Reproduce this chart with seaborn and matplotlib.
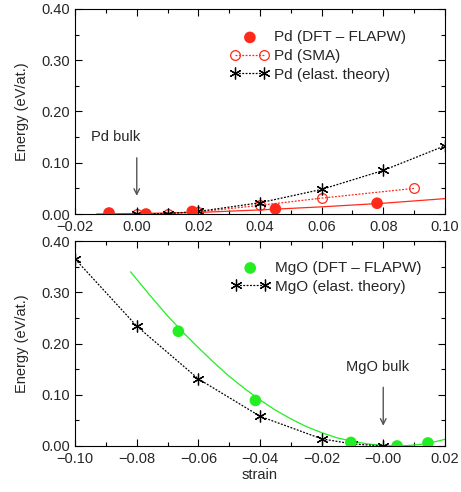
import matplotlib
matplotlib.use("Agg")
import matplotlib.pyplot as plt
import seaborn as sns
from matplotlib.ticker import MultipleLocator

sns.set_style("ticks")
plt.rcParams['font.family'] = ['Liberation Sans', 'DejaVu Sans']

# ---- Pd panel data ----
pd_dft_x = [-0.009, 0.003, 0.018, 0.045, 0.078]
pd_dft_y = [0.002, 0.000, 0.005, 0.010, 0.021]
pd_fit_x = [-0.013, 0.00, 0.02, 0.04, 0.06, 0.08, 0.10]
pd_fit_y = [0.000, 0.001, 0.003, 0.008, 0.014, 0.021, 0.030]
pd_sma_x = [0.00, 0.01, 0.02, 0.04, 0.06, 0.09]
pd_sma_y = [0.000, 0.001, 0.004, 0.017, 0.031, 0.050]
pd_el_x = [0.00, 0.01, 0.02, 0.04, 0.06, 0.08, 0.10]
pd_el_y = [0.000, 0.001, 0.005, 0.022, 0.048, 0.085, 0.133]

# ---- MgO panel data ----
mgo_dft_x = [-0.0665, -0.0415, -0.0105, 0.0045, 0.0145]
mgo_dft_y = [0.224, 0.089, 0.007, 0.000, 0.006]
mgo_fit_x = [-0.082, -0.076, -0.07, -0.065, -0.06, -0.055, -0.05, -0.045, -0.04, -0.035,
             -0.03, -0.025, -0.02, -0.015, -0.01, -0.005, 0.0, 0.004, 0.008, 0.012, 0.016, 0.02]
mgo_fit_y = [0.340, 0.296, 0.254, 0.222, 0.192, 0.163, 0.136, 0.112, 0.090, 0.070,
             0.053, 0.038, 0.026, 0.016, 0.009, 0.004, 0.001, 0.000, 0.001, 0.003, 0.007, 0.013]
mgo_el_x = [-0.10, -0.08, -0.06, -0.04, -0.02, -0.01, 0.00]
mgo_el_y = [0.365, 0.234, 0.131, 0.058, 0.014, 0.004, 0.000]

red = '#ff2a1a'
green = '#22ee22'
star = (6, 2, 0)
dots = (0, (1.5, 1.2))

fig = plt.figure(figsize=(4.61, 4.92), dpi=100)
ax1 = fig.add_axes([0.163, 0.565, 0.802, 0.417])
ax2 = fig.add_axes([0.163, 0.0935, 0.802, 0.4165])

# Top panel
sns.lineplot(x=pd_fit_x, y=pd_fit_y, ax=ax1, color=red, lw=0.9, sort=False)
sns.lineplot(x=pd_sma_x, y=pd_sma_y, ax=ax1, color=red, lw=0.9, linestyle=dots,
             marker='o', markersize=7, markerfacecolor='none', markeredgecolor=red,
             markeredgewidth=0.9, sort=False, label='Pd (SMA)')
sns.lineplot(x=pd_el_x, y=pd_el_y, ax=ax1, color='black', lw=0.9, linestyle=dots,
             marker=star, markersize=8.5, markeredgewidth=0.9, markeredgecolor='black',
             sort=False, label='Pd (elast. theory)')
sns.scatterplot(x=pd_dft_x, y=pd_dft_y, ax=ax1, color=red, s=70, edgecolor='none',
                zorder=5, label='Pd (DFT \u2013 FLAPW)')

# Bottom panel
sns.lineplot(x=mgo_fit_x, y=mgo_fit_y, ax=ax2, color=green, lw=0.9, sort=False)
sns.lineplot(x=mgo_el_x, y=mgo_el_y, ax=ax2, color='black', lw=0.9, linestyle=dots,
             marker=star, markersize=8.5, markeredgewidth=0.9, markeredgecolor='black',
             sort=False, label='MgO (elast. theory)')
sns.scatterplot(x=mgo_dft_x, y=mgo_dft_y, ax=ax2, color=green, s=70, edgecolor='none',
                zorder=5, label='MgO (DFT \u2013 FLAPW)')

for ax, (x0, x1) in ((ax1, (-0.02, 0.10)), (ax2, (-0.10, 0.02))):
    ax.set_xlim(x0, x1)
    ax.set_ylim(0, 0.40)
    ax.xaxis.set_major_locator(MultipleLocator(0.02))
    ax.xaxis.set_minor_locator(MultipleLocator(0.01))
    ax.yaxis.set_major_locator(MultipleLocator(0.10))
    ax.yaxis.set_minor_locator(MultipleLocator(0.05))
    ax.xaxis.set_major_formatter(plt.FuncFormatter(lambda v, p: f"{v:.2f}".replace('-', '\u2212')))
    ax.yaxis.set_major_formatter(plt.FuncFormatter(lambda v, p: f"{v:.2f}"))
    ax.tick_params(which='both', direction='in', top=True, right=True, labelsize=10.5,
                   width=0.8, color='black')
    ax.tick_params(which='major', length=5)
    ax.tick_params(which='minor', length=3)
    ax.tick_params(axis='x', pad=4)
    for s in ax.spines.values():
        s.set_linewidth(0.8)
        s.set_color('black')
    ax.set_ylabel('Energy (eV/at.)', fontsize=10.5)
    ax.yaxis.set_label_coords(-0.125, 0.5)

ax2.set_xlabel('strain', fontsize=10.5, labelpad=2)

# legends
h, l = ax1.get_legend_handles_labels()
order = [l.index('Pd (DFT \u2013 FLAPW)'), l.index('Pd (SMA)'), l.index('Pd (elast. theory)')]
ax1.legend([h[i] for i in order], [l[i] for i in order], loc='upper right',
           bbox_to_anchor=(0.933, 0.962), frameon=False, fontsize=11, handlelength=2.5,
           handletextpad=0.35, labelspacing=0.3, numpoints=2, scatterpoints=1)
h, l = ax2.get_legend_handles_labels()
order = [l.index('MgO (DFT \u2013 FLAPW)'), l.index('MgO (elast. theory)')]
ax2.legend([h[i] for i in order], [l[i] for i in order], loc='upper right',
           bbox_to_anchor=(0.973, 0.97), frameon=False, fontsize=11, handlelength=2.5,
           handletextpad=0.35, labelspacing=0.3, numpoints=2, scatterpoints=1)

# annotations
ax1.annotate('', xy=(0.0, 0.030), xytext=(0.0, 0.115),
             arrowprops=dict(arrowstyle='->', color='#555555', lw=1.0))
ax1.text(-0.007, 0.150, 'Pd bulk', ha='center', va='center', fontsize=10.5)
ax2.annotate('', xy=(0.0, 0.034), xytext=(0.0, 0.120),
             arrowprops=dict(arrowstyle='->', color='#555555', lw=1.0))
ax2.text(-0.002, 0.154, 'MgO bulk', ha='center', va='center', fontsize=10.5)

fig.savefig('out.png', dpi=100)
